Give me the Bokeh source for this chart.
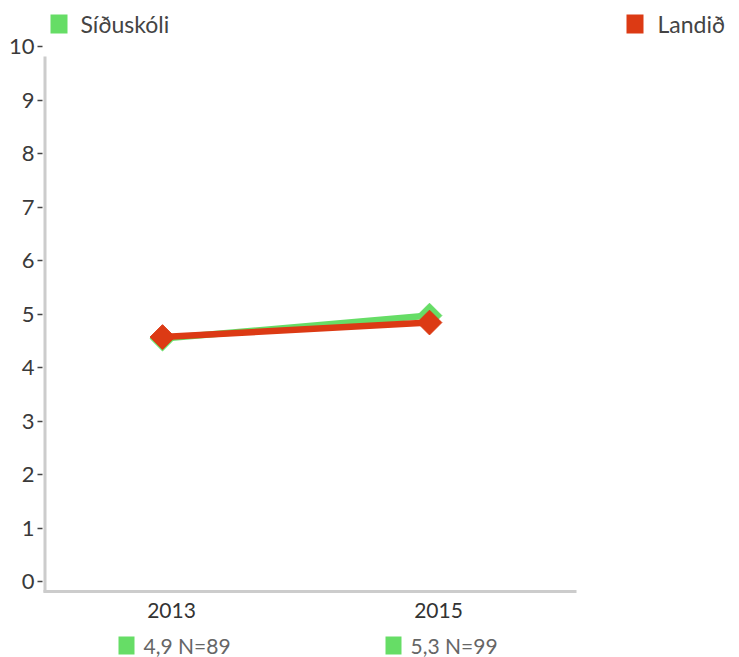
from bokeh.plotting import figure
from bokeh.models import Range1d, FixedTicker, ColumnDataSource
from bokeh.core.properties import value
from bokeh.embed import file_html
from bokeh.resources import INLINE
import math

# ---- data ----
years = ["2013", "2015"]
x_idx = [0, 1]
siduskoli = [4.54, 4.97]
landid = [4.57, 4.84]
y_ticks = [0, 1, 2, 3, 4, 5, 6, 7, 8, 9, 10]
n_labels = ["4,9 N=89", "5,3 N=99"]
series_names = ["Síðuskóli", "Landið"]

GREEN = "#66dd66"
RED = "#dc3a14"
FONT = "Lato"
W, H = 739, 657

# ---- layout helpers: canvas pixel -> data coordinate (layout only) ----
X0_PX, X_UNIT = 162.0, 267.0     # pixel of x=0, pixels per category step
Y0_PX, Y_UNIT = 581.0, 53.5      # pixel of y=0, pixels per unit
FRAME_LEFT = 42


def dx(px):
    return (px - X0_PX) / X_UNIT


def dy(py):
    return (Y0_PX - py) / Y_UNIT


p = figure(width=W, height=H, output_backend="svg", toolbar_location=None,
           x_range=Range1d(dx(FRAME_LEFT), dx(W)), y_range=Range1d(dy(H), dy(0)),
           min_border_left=FRAME_LEFT, min_border_right=0, min_border_top=0, min_border_bottom=0)
p.outline_line_color = None
p.xgrid.visible = False
p.ygrid.visible = False
p.xaxis.visible = False
p.background_fill_color = "white"
p.border_fill_color = "white"

# y axis (ticks + labels from Bokeh, line drawn separately to its own extent)
p.yaxis.ticker = FixedTicker(ticks=y_ticks)
p.yaxis.axis_line_color = None
p.yaxis.major_tick_in = 0
p.yaxis.major_tick_out = 5
p.yaxis.major_tick_line_color = "#444444"
p.yaxis.major_tick_line_width = 1.5
p.yaxis.minor_tick_line_color = None
p.yaxis.major_label_standoff = 3
p.yaxis.major_label_text_font = FONT
p.yaxis.major_label_text_font_size = "22px"
p.yaxis.major_label_text_color = "#3a3a3a"

# axis lines (L shape)
axis_src = ColumnDataSource(dict(
    xs=[[dx(44.5), dx(44.5)], [dx(43), dx(576)]],
    ys=[[dy(56), dy(592)], [dy(591), dy(591)]],
))
p.multi_line("xs", "ys", source=axis_src, line_color="#cccccc", line_width=3)

# series
src_g = ColumnDataSource(dict(x=x_idx, y=siduskoli))
src_r = ColumnDataSource(dict(x=x_idx, y=landid))
p.line("x", "y", source=src_g, color=GREEN, line_width=6.5)
p.scatter("x", "y", source=src_g, marker="square", size=17.5, angle=math.pi / 4,
          fill_color=GREEN, line_color=GREEN)
p.line("x", "y", source=src_r, color=RED, line_width=6.5)
p.scatter("x", "y", source=src_r, marker="square", size=17.5, angle=math.pi / 4,
          fill_color=RED, line_color=RED)

# x category labels
p.text(x=x_idx, y=[dy(610)] * len(x_idx), text=years, x_offset=9,
       text_align="center", text_baseline="middle", text_font=value(FONT),
       text_font_size="21px", text_color="#333333")

# legend (top)
p.rect(x=[dx(58.5), dx(634.5)], y=[dy(23.5)] * 2, width=17, height=19,
       width_units="screen", height_units="screen",
       fill_color=[GREEN, RED], line_color=None)
p.text(x=[dx(80), dx(657)], y=[dy(23.5)] * 2, text=series_names,
       text_align="left", text_baseline="middle", text_font=value(FONT),
       text_font_size="23px", text_color="#444444")

# N annotations under each category
p.rect(x=[xi - 36 / X_UNIT for xi in x_idx], y=[dy(645)] * len(x_idx), width=16, height=18,
       width_units="screen", height_units="screen", fill_color=GREEN, line_color=None)
p.text(x=x_idx, y=[dy(645)] * len(x_idx), text=n_labels, x_offset=-19,
       text_align="left", text_baseline="middle", text_font=value(FONT),
       text_font_size="21px", text_color="#666666")

open("out.html", "w").write(file_html(p, INLINE))
